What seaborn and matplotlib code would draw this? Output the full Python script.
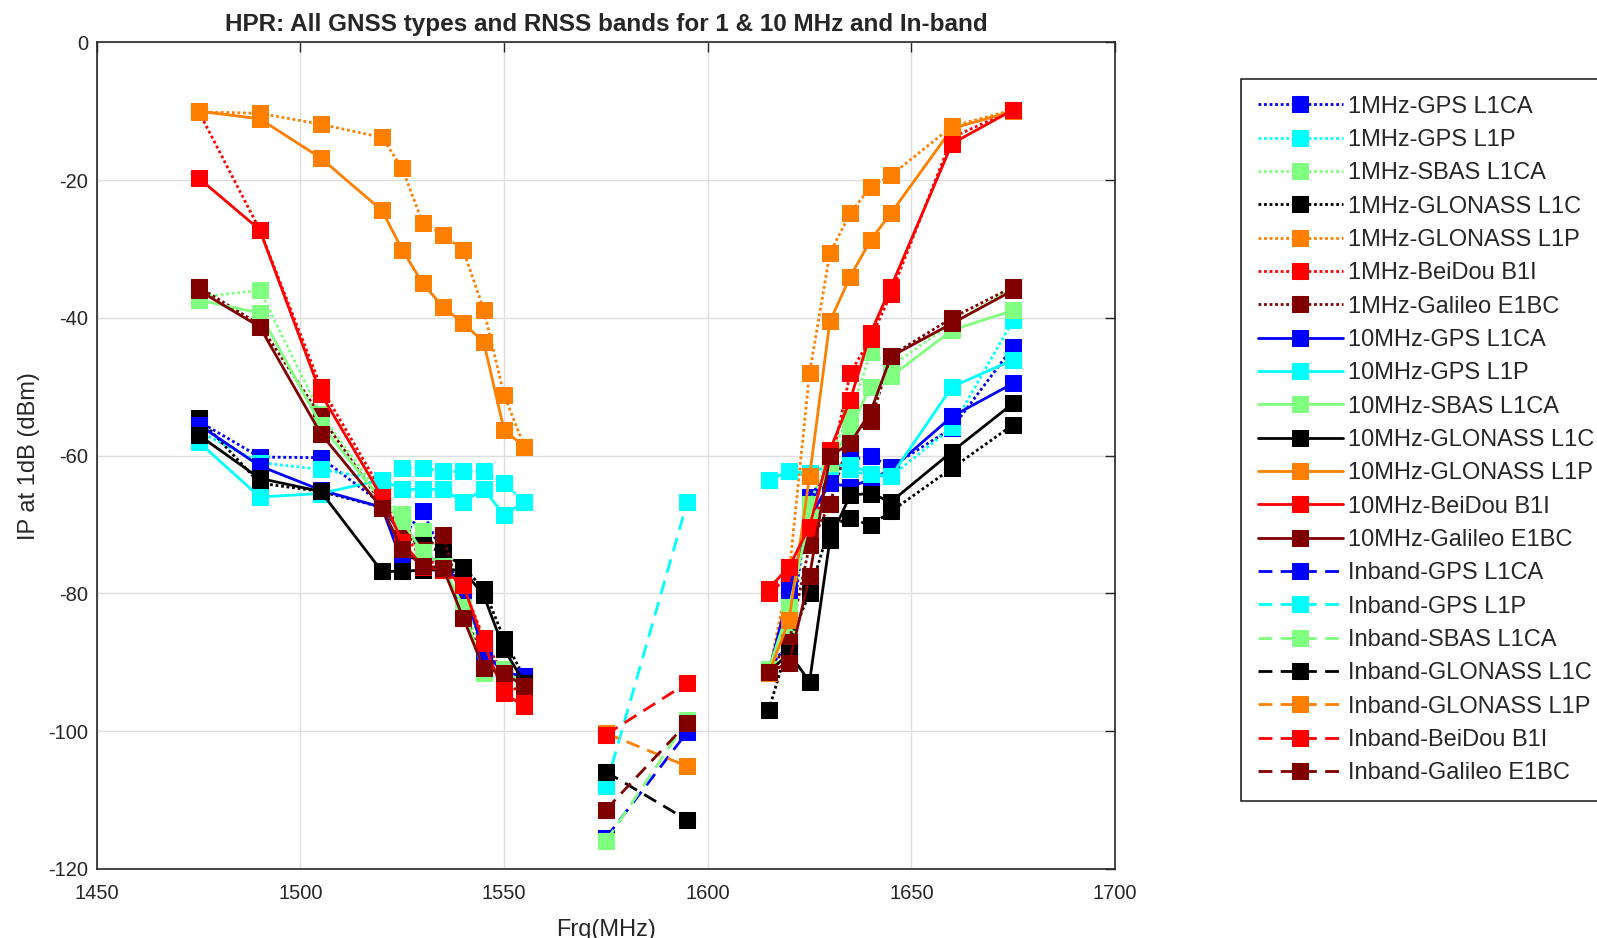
import pandas as pd
import seaborn as sns
import matplotlib.pyplot as plt

# Frequency grids (MHz)
freq_lo = [1475, 1490, 1505, 1520, 1525, 1530, 1535, 1540, 1545, 1550, 1555]
freq_hi = [1615, 1620, 1625, 1630, 1635, 1640, 1645, 1660, 1675]
freq_inband = [1575, 1595]

systems = ['GPS L1CA', 'GPS L1P', 'SBAS L1CA', 'GLONASS L1C', 'GLONASS L1P', 'BeiDou B1I', 'Galileo E1BC']
colors = ['#0000ff', '#00ffff', '#80ff80', '#000000', '#ff8000', '#ff0000', '#800000']

# 1 MHz bandwidth, lower side
gps_l1ca_1m_lo = [-55.0, -60.2, -60.3, -67.0, -72.0, -68.0, -74.5, -79.5, -88.0, -91.5, -92.0]
gps_l1p_1m_lo = [-56.5, -61.0, -62.0, -63.5, -61.8, -61.8, -62.3, -62.3, -62.3, -64.0, -66.7]
sbas_1m_lo = [-37.0, -36.0, -54.0, -66.0, -68.5, -71.0, -74.0, -78.5, -91.0, -91.0, -93.0]
glo_l1c_1m_lo = [-54.5, -64.0, -65.2, -67.5, -71.5, -73.0, -74.0, -76.2, -79.3, -86.6, -92.3]
glo_l1p_1m_lo = [-10.1, -10.3, -11.9, -13.8, -18.3, -26.2, -27.9, -30.2, -38.8, -51.2, -58.7]
bds_1m_lo = [-10.0, -27.2, -50.0, -65.2, -71.0, -75.0, -76.0, -79.0, -86.5, -92.0, -95.5]
gal_1m_lo = [-35.5, -41.0, -54.3, -67.0, -71.0, -73.7, -71.5, -82.0, -90.5, -91.6, -93.0]

# 1 MHz bandwidth, upper side
gps_l1ca_1m_hi = [-91.0, -87.0, -66.0, -62.0, -60.6, -60.1, -61.6, -56.0, -44.2]
gps_l1p_1m_hi = [-63.5, -62.3, -63.0, -62.0, -62.0, -63.0, -63.0, -55.9, -40.3]
sbas_1m_hi = [-91.0, -85.0, -67.0, -60.0, -54.0, -45.0, -47.0, -40.8, -35.7]
glo_l1c_1m_hi = [-96.9, -87.0, -80.0, -70.1, -69.1, -70.1, -68.1, -61.8, -55.5]
glo_l1p_1m_hi = [-91.6, -77.0, -48.0, -30.6, -24.8, -21.0, -19.3, -12.2, -9.8]
bds_1m_hi = [-80.0, -77.5, -72.0, -62.0, -48.0, -43.0, -36.5, -13.8, -9.8]
gal_1m_hi = [-91.4, -87.0, -73.0, -67.0, -57.0, -55.0, -45.5, -40.0, -35.5]

# 10 MHz bandwidth, lower side
gps_l1ca_10m_lo = [-55.5, -61.5, -65.0, -67.5, -75.5, -74.0, -76.0, -79.0, -88.5, -91.5, -92.0]
gps_l1p_10m_lo = [-58.0, -66.0, -65.5, -63.5, -64.9, -64.9, -64.9, -66.7, -64.9, -68.6, -66.7]
sbas_10m_lo = [-37.4, -39.3, -55.5, -66.5, -69.5, -74.0, -76.0, -82.0, -91.5, -91.0, -93.5]
glo_l1c_10m_lo = [-57.0, -63.3, -65.2, -76.8, -76.8, -76.6, -76.6, -76.6, -80.3, -88.1, -93.0]
glo_l1p_10m_lo = [-10.0, -11.1, -16.8, -24.4, -30.1, -35.0, -38.4, -40.8, -43.5, -56.3, -58.7]
bds_10m_lo = [-19.7, -27.2, -51.0, -66.0, -72.5, -76.1, -76.6, -78.8, -87.2, -94.5, -96.4]
gal_10m_lo = [-36.0, -41.3, -56.8, -67.6, -73.6, -76.0, -76.3, -83.6, -90.9, -91.6, -93.5]

# 10 MHz bandwidth, upper side
gps_l1ca_10m_hi = [-91.5, -79.5, -69.0, -64.0, -64.5, -63.5, -62.0, -54.3, -49.5]
gps_l1p_10m_hi = [-63.5, -62.3, -62.5, -61.5, -61.3, -62.6, -63.0, -50.0, -46.1]
sbas_10m_hi = [-91.0, -82.0, -69.0, -61.0, -56.0, -50.0, -48.5, -41.8, -38.9]
glo_l1c_10m_hi = [-91.4, -88.7, -92.8, -72.2, -65.7, -65.5, -66.7, -59.4, -52.4]
glo_l1p_10m_hi = [-91.6, -83.8, -63.0, -40.5, -34.0, -28.7, -24.8, -12.5, -10.0]
bds_10m_hi = [-79.3, -76.1, -70.3, -59.2, -51.9, -42.2, -35.5, -14.7, -9.8]
gal_10m_hi = [-91.4, -90.1, -77.5, -60.1, -58.2, -53.6, -45.6, -40.8, -36.0]

# In-band
gps_l1ca_inb = [-115.5, -100.1]
gps_l1p_inb = [-108.0, -66.7]
sbas_inb = [-116.0, -98.4]
glo_l1c_inb = [-105.9, -112.9]
glo_l1p_inb = [-100.3, -105.1]
bds_inb = [-100.5, -93.0]
gal_inb = [-111.4, -98.8]

one_lo = [gps_l1ca_1m_lo, gps_l1p_1m_lo, sbas_1m_lo, glo_l1c_1m_lo, glo_l1p_1m_lo, bds_1m_lo, gal_1m_lo]
one_hi = [gps_l1ca_1m_hi, gps_l1p_1m_hi, sbas_1m_hi, glo_l1c_1m_hi, glo_l1p_1m_hi, bds_1m_hi, gal_1m_hi]
ten_lo = [gps_l1ca_10m_lo, gps_l1p_10m_lo, sbas_10m_lo, glo_l1c_10m_lo, glo_l1p_10m_lo, bds_10m_lo, gal_10m_lo]
ten_hi = [gps_l1ca_10m_hi, gps_l1p_10m_hi, sbas_10m_hi, glo_l1c_10m_hi, glo_l1p_10m_hi, bds_10m_hi, gal_10m_hi]
inband = [gps_l1ca_inb, gps_l1p_inb, sbas_inb, glo_l1c_inb, glo_l1p_inb, bds_inb, gal_inb]

sns.set_theme(style="whitegrid")
plt.rcParams['font.family'] = ['Liberation Sans', 'DejaVu Sans']
plt.rcParams['axes.unicode_minus'] = False

fig, ax = plt.subplots(figsize=(15.97, 9.38), dpi=100)
fig.subplots_adjust(left=0.0606, right=0.6982, bottom=0.0736, top=0.9549)

dotted = (0, (1, 1))
dashed = (0, (5, 3))


def draw(x, y, color, ls, label=None):
    df = pd.DataFrame({'f': x, 'ip': y})
    sns.lineplot(data=df, x='f', y='ip', ax=ax, color=color, linestyle=ls, linewidth=2,
                 marker='s', markersize=12, markeredgecolor=color, estimator=None,
                 sort=False, legend=False, label=label)


# 1 MHz
for name, c, lo, hi in zip(systems, colors, one_lo, one_hi):
    draw(freq_lo, lo, c, dotted, '1MHz-' + name)
    draw(freq_hi, hi, c, dotted)
# 10 MHz
for name, c, lo, hi in zip(systems, colors, ten_lo, ten_hi):
    draw(freq_lo, lo, c, '-', '10MHz-' + name)
    draw(freq_hi, hi, c, '-')
# In-band
for name, c, vals in zip(systems, colors, inband):
    draw(freq_inband, vals, c, dashed, 'Inband-' + name)

ax.set_xlim(1450, 1700)
ax.set_ylim(-120, 0)
ax.set_xticks(range(1450, 1701, 50))
ax.set_yticks(range(-120, 1, 20))
ax.grid(True, color='#dedede', linewidth=1)
for s in ax.spines.values():
    s.set_color('#262626')
    s.set_linewidth(1.2)
ax.tick_params(direction='in', length=7, width=1, colors='#262626', labelsize=14.5,
               top=True, right=True, labeltop=False, labelright=False)
ax.tick_params(axis='x', pad=11)
ax.tick_params(axis='y', pad=6)

ax.set_xlabel('Frq(MHz)', fontsize=17, color='#262626', labelpad=11)
ax.set_ylabel('IP at 1dB (dBm)', fontsize=17, color='#262626', labelpad=6)
ax.set_title('HPR: All GNSS types and RNSS bands for 1 & 10 MHz and In-band',
             fontsize=17.5, fontweight='bold', pad=8)

handles, labels = ax.get_legend_handles_labels()
leg = ax.legend(handles, labels, loc='upper left', bbox_to_anchor=(1241 / 1597, 1 - 79 / 938),
                bbox_transform=fig.transFigure, borderaxespad=0, fontsize=17,
                handlelength=3.6, handletextpad=0.25, labelspacing=0.48, borderpad=0.7,
                fancybox=False, framealpha=1, edgecolor='#262626', numpoints=1)
leg.get_frame().set_linewidth(1.2)

fig.savefig('out.png', dpi=100)
